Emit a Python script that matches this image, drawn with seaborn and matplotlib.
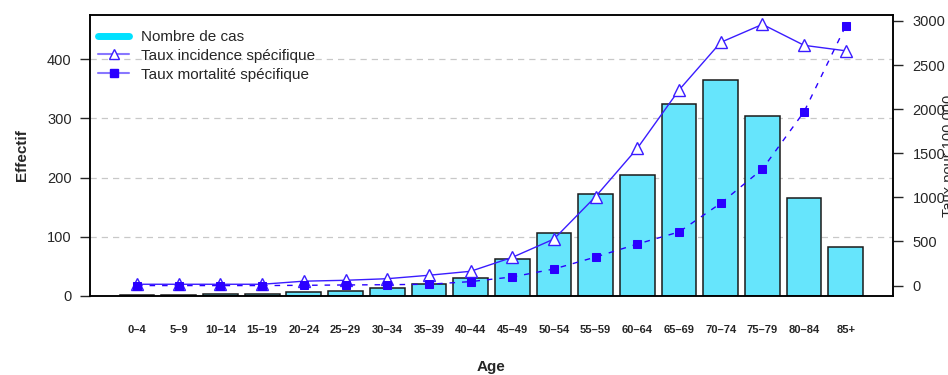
import numpy as np
import pandas as pd
import matplotlib
matplotlib.use("Agg")
import matplotlib.pyplot as plt
from matplotlib.lines import Line2D
import seaborn as sns

ages = ["0–4", "5–9", "10–14", "15–19", "20–24", "25–29", "30–34", "35–39", "40–44",
        "45–49", "50–54", "55–59", "60–64", "65–69", "70–74", "75–79", "80–84", "85+"]
cases = [1, 2, 3, 3, 7, 8, 13, 21, 30, 63, 107, 172, 204, 324, 364, 304, 166, 83]
incidence = [15, 15, 15, 15, 50, 60, 78, 117, 162, 320, 528, 1010, 1557, 2218, 2758, 2962, 2724, 2662]
mortality = [0, 0, 0, 0, 3, 7, 10, 15, 45, 98, 188, 324, 471, 608, 933, 1322, 1972, 2947]

sns.set_style("white")
plt.rcParams['font.family'] = ['Liberation Sans', 'DejaVu Sans']

df = pd.DataFrame({"age": ages, "cases": cases, "inc": incidence, "mort": mortality,
                   "pos": np.arange(len(ages))})

fig = plt.figure(figsize=(9.48, 3.75), dpi=100)
ax = fig.add_axes([0.0949, 0.2107, 0.847, 0.7493])

# dashed grid behind bars
for v in [100, 200, 300, 400]:
    ax.axhline(v, color="#c8c8c8", ls=(0, (5, 4)), lw=0.9, zorder=0)

sns.barplot(data=df, x="age", y="cases", color="#66e5fc", saturation=1,
            width=0.833, edgecolor="#1a1a1a", linewidth=1.1, ax=ax, zorder=2)
ax.set_xlim(-1.13, 18.13)
ax.set_ylim(0, 474.5)
ax.set_yticks([0, 100, 200, 300, 400])
ax.set_yticklabels(["0", "100", "200", "300", "400"], fontsize=10.5)
ax.tick_params(axis="y", length=7.2, width=1, pad=6, direction="out", left=True)
ax.tick_params(axis="x", length=0, pad=21, labelsize=8)
for t in ax.get_xticklabels():
    t.set_fontweight("bold")
ax.set_xlabel("Age", fontsize=11, fontweight="bold", labelpad=18)
ax.set_ylabel("Effectif", fontsize=11, fontweight="bold", labelpad=13)
for s in ax.spines.values():
    s.set_color("black")
    s.set_linewidth(1.1)

ax2 = ax.twinx()
sns.lineplot(data=df, x="pos", y="inc", color="#3a1cff", lw=1, marker="^",
             markersize=8, markerfacecolor="white", markeredgecolor="#3a1cff",
             markeredgewidth=1, ax=ax2, zorder=3)
sns.lineplot(data=df, x="pos", y="mort", color="#2a00ff", lw=1, ls=(0, (4, 5)),
             marker="s", markersize=6, markerfacecolor="#2a00ff",
             markeredgecolor="#2a00ff", ax=ax2, zorder=3)
ax2.set_ylim(-118, 3068)
ax2.set_xlim(-1.13, 18.13)
ax2.set_yticks(range(0, 3001, 500))
ax2.set_yticklabels([str(v) for v in range(0, 3001, 500)], fontsize=10.5)
ax2.tick_params(axis="y", length=7.2, width=1, pad=7, direction="out", right=True)
ax2.set_ylabel("Taux pour 100 000", fontsize=10.5)
ax2.yaxis.set_label_coords(1.061, 0.5)
ax2.set_xlabel("")
for s in ax2.spines.values():
    s.set_color("black")
    s.set_linewidth(1.1)

handles = [
    Line2D([], [], color="#00e1ff", lw=5, solid_capstyle="round"),
    Line2D([], [], color="#8877ff", lw=1.5, marker="^", markersize=7,
           markerfacecolor="white", markeredgecolor="#3a1cff"),
    Line2D([], [], color="#8877ff", lw=1.5, marker="s", markersize=6,
           markerfacecolor="#2a00ff", markeredgecolor="#2a00ff"),
]
ax2.legend(handles, ["Nombre de cas", "Taux incidence spécifique", "Taux mortalité spécifique"],
           loc="upper left", frameon=False, fontsize=11, handlelength=2.0,
           handletextpad=0.8, labelspacing=0.32, borderaxespad=0.3,
           bbox_to_anchor=(-0.003, 0.985))

fig.savefig("out.png", dpi=100)
